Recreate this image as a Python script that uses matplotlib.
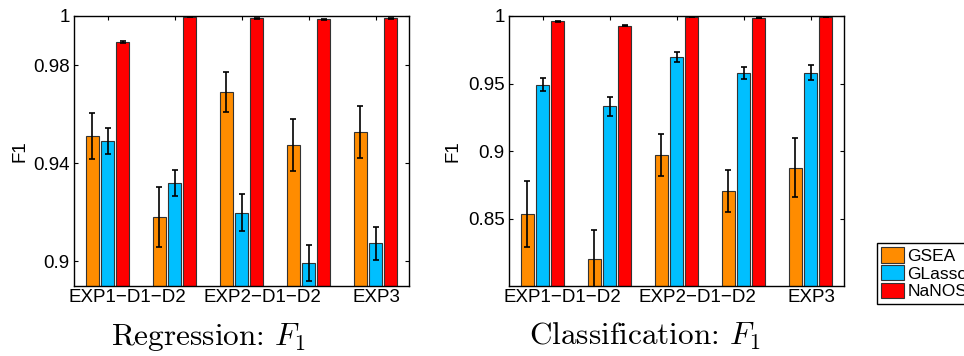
import numpy as np
import matplotlib
matplotlib.use("Agg")
import matplotlib.pyplot as plt

plt.rcParams['font.family'] = ['Liberation Sans', 'DejaVu Sans']
plt.rcParams['mathtext.fontset'] = 'cm'

methods = ['GSEA', 'GLasso', 'NaNOS']
colors = ['#FF8C00', '#00BFFF', '#FF0000']
groups = [1, 2, 3, 4, 5]
group_labels = ['EXP1\u2212D1\u2212D2', 'EXP2\u2212D1\u2212D2', 'EXP3']
label_pos = [1.29, 3.31, 5.015]

# regression F1 (mean, error) per method
reg_gsea = [0.9511, 0.9179, 0.9689, 0.9474, 0.9526]
reg_gsea_err = [0.0095, 0.0122, 0.0082, 0.0107, 0.0105]
reg_glasso = [0.9489, 0.9318, 0.9197, 0.8992, 0.9072]
reg_glasso_err = [0.0053, 0.0053, 0.0075, 0.0074, 0.0068]
reg_nanos = [0.9893, 0.9997, 0.9990, 0.9986, 0.9990]
reg_nanos_err = [0.0005, 0.0002, 0.0003, 0.0002, 0.0002]

# classification F1
cls_gsea = [0.8535, 0.8201, 0.8971, 0.8704, 0.8876]
cls_gsea_err = [0.0245, 0.0214, 0.0156, 0.0155, 0.0218]
cls_glasso = [0.9492, 0.9330, 0.9696, 0.9576, 0.9581]
cls_glasso_err = [0.0049, 0.0068, 0.0034, 0.0046, 0.0053]
cls_nanos = [0.9960, 0.9928, 0.9995, 0.9985, 0.9993]
cls_nanos_err = [0.0005, 0.0005, 0.0003, 0.0003, 0.0002]


def draw_panel(ax, series, errs, ylim, yticks):
    x = np.array(groups, dtype=float)
    offsets = [-0.224, 0.0, 0.224]
    handles = []
    for vals, err, off, col, name in zip(series, errs, offsets, colors, methods):
        b = ax.bar(x + off, vals, width=0.18, color=col, edgecolor='#333333',
                   linewidth=0.8, label=name, zorder=2)
        ax.errorbar(x + off, vals, yerr=err, fmt='none', ecolor='k',
                    elinewidth=1.2, capsize=2.5, capthick=1.2, zorder=3)
        handles.append(b)
    ax.set_xlim(0.5, 5.5)
    ax.set_ylim(*ylim)
    ax.set_yticks(yticks)
    ax.yaxis.set_major_formatter(plt.FormatStrFormatter('%g'))
    ax.xaxis.remove_overlapping_locs = False
    ax.set_xticks(groups)
    ax.set_xticklabels([])
    ax.set_xticks(label_pos, group_labels, minor=True)
    ax.tick_params(axis='x', which='minor', length=0, pad=2, labelsize=13.5)
    ax.tick_params(axis='x', which='major', direction='in', length=3,
                   top=True, bottom=True)
    ax.tick_params(axis='y', direction='in', length=3, right=True,
                   labelsize=13.5, pad=3)
    for s in ax.spines.values():
        s.set_linewidth(1.0)
    ax.set_ylabel('F1', fontsize=13.5)
    return handles


fig = plt.figure(figsize=(9.64, 3.56), dpi=100)
ax1 = fig.add_axes([74 / 964, 1 - 286 / 356, 335 / 964, 270 / 356])
ax2 = fig.add_axes([509 / 964, 1 - 286 / 356, 335 / 964, 270 / 356])

handles = draw_panel(ax1, [reg_gsea, reg_glasso, reg_nanos],
                     [reg_gsea_err, reg_glasso_err, reg_nanos_err],
                     (0.8898, 1.0), [0.9, 0.94, 0.98, 1.0])
draw_panel(ax2, [cls_gsea, cls_glasso, cls_nanos],
           [cls_gsea_err, cls_glasso_err, cls_nanos_err],
           (0.8, 1.0), [0.85, 0.9, 0.95, 1.0])
ax1.yaxis.set_label_coords(-0.137, 0.5)
ax2.yaxis.set_label_coords(-0.142, 0.5)

fig.text(209 / 964, 1 - 345 / 356, 'Regression: $F_1$', family='cmr10',
         fontsize=22.5, ha='center', va='baseline')
fig.text(645 / 964, 1 - 345 / 356, 'Classification: $F_1$', family='cmr10',
         fontsize=22.5, ha='center', va='baseline')

# legend runs off the right edge of the figure, as in the original
leg = fig.legend(handles, methods, loc='upper left',
                 bbox_to_anchor=(877 / 964, 1 - 243 / 356), fontsize=12.5,
                 fancybox=False, edgecolor='k', framealpha=1,
                 handlelength=1.3, handleheight=1.0, handletextpad=0.2,
                 labelspacing=0.05, borderpad=0.25, borderaxespad=0)
leg.get_frame().set_linewidth(1.0)

fig.savefig('out.png', dpi=100)
